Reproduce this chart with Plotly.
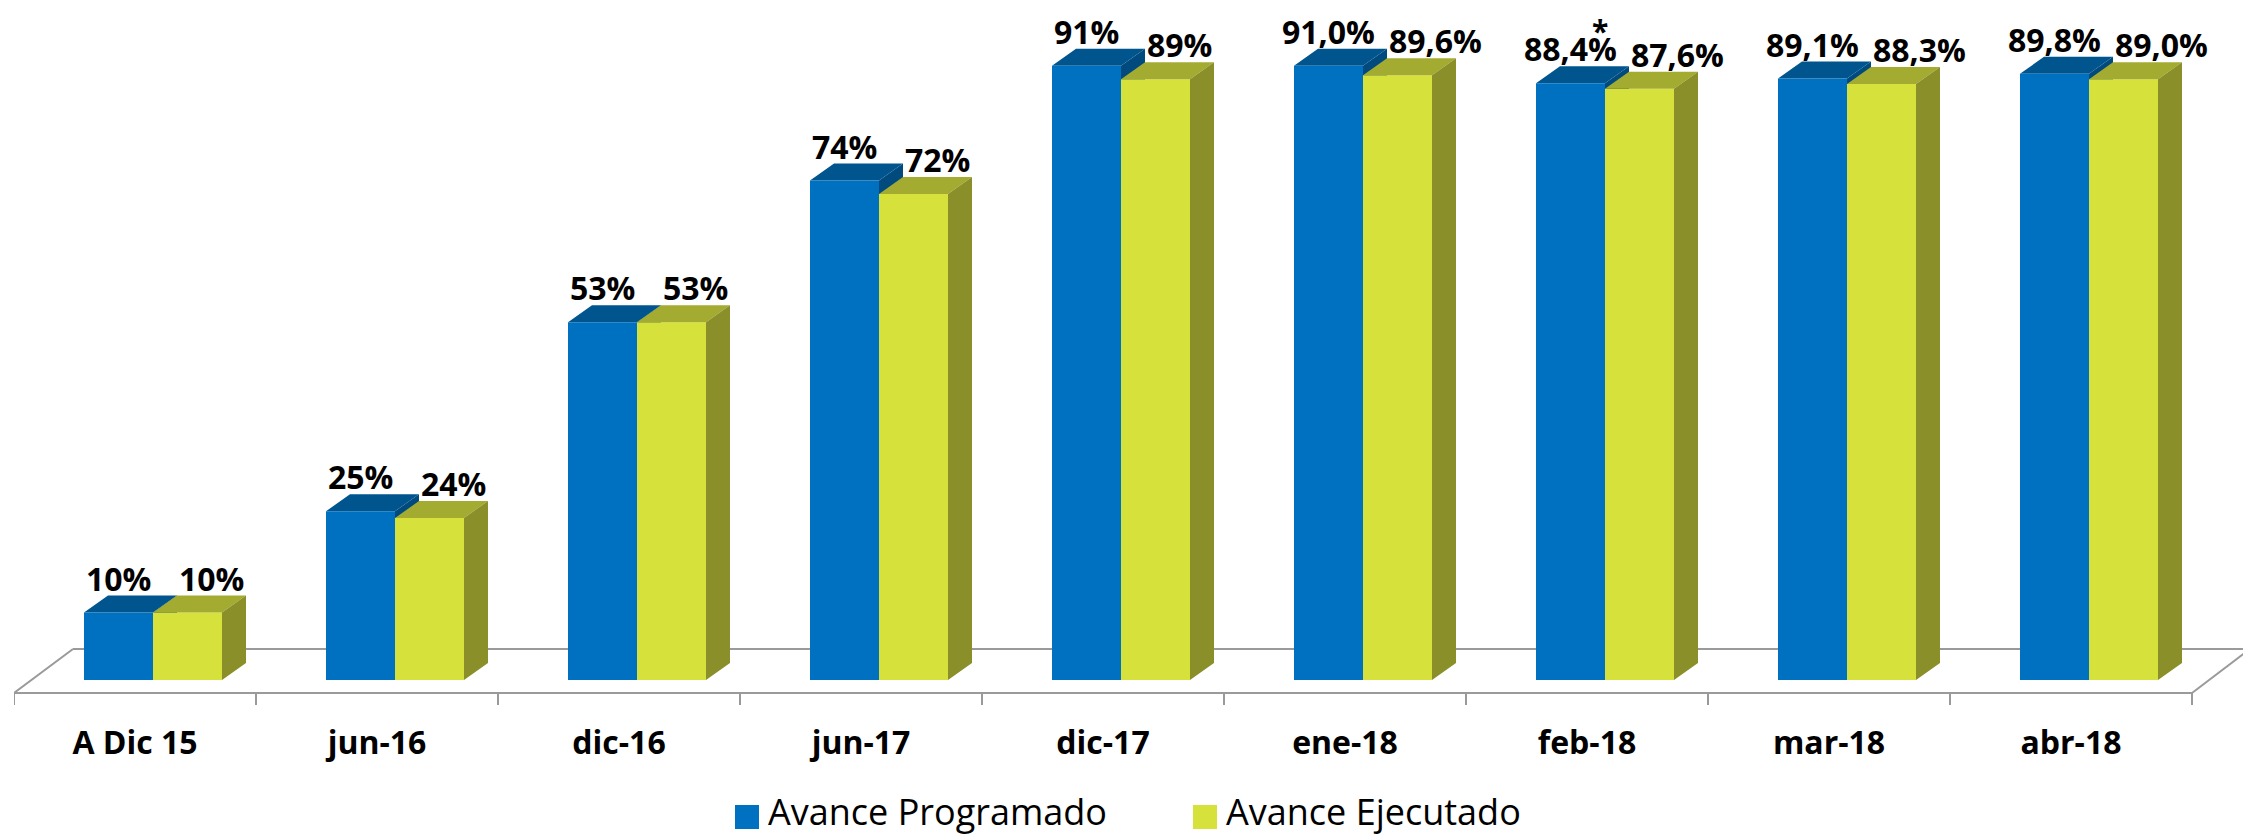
import plotly.graph_objects as go

# ---------------- data ----------------
categories = ["A Dic 15", "jun-16", "dic-16", "jun-17", "dic-17", "ene-18", "feb-18", "mar-18", "abr-18"]
programado = [10, 25, 53, 74, 91, 91.0, 88.4, 89.1, 89.8]
ejecutado = [10, 24, 53, 72, 89, 89.6, 87.6, 88.3, 89.0]
labels_programado = ["10%", "25%", "53%", "74%", "91%", "91,0%", "88,4%", "89,1%", "89,8%"]
labels_ejecutado = ["10%", "24%", "53%", "72%", "89%", "89,6%", "87,6%", "88,3%", "89,0%"]
series_names = ["Avance Programado", "Avance Ejecutado"]
note_category = "feb-18"
note_text = "*"

# ---------------- geometry / style ----------------
PAGE_OFF = 8                        # default body margin of the html page
W_PX, H_PX = 2251 - PAGE_OFF, 838 - PAGE_OFF
CAT_PX = 242.0                      # pixels per category
ML, MT = 14 - PAGE_OFF, 0
PLOT_W = W_PX - ML
Y_PX_PER = 6.75                     # pixels per percent
Y_MIN = -4.0
ZERO_PX = 680 - PAGE_OFF
Y_MAX = ZERO_PX / Y_PX_PER
PLOT_H = (Y_MAX - Y_MIN) * Y_PX_PER
MB = H_PX - PLOT_H

X_MIN = -0.5
X_MAX = X_MIN + PLOT_W / CAT_PX

BAR_W = 69 / CAT_PX
OFF_B = -51 / CAT_PX
OFF_Y = 18 / CAT_PX
DX = 24 / CAT_PX
DY = 17 / Y_PX_PER

FLOOR_FRONT = -13 / Y_PX_PER
FLOOR_BACK = 31 / Y_PX_PER
FLOOR_DX = 59 / CAT_PX
TICK_LEN = 12 / Y_PX_PER

BLUE = "#0070C0"
BLUE_TOP = "#00558F"
BLUE_SIDE = "#004A7E"
YEL = "#D7E13C"
YEL_TOP = "#A4AB31"
YEL_SIDE = "#8A8F29"
GRID = "#9A9A9A"

FONT = "Open Sans"

n = len(categories)
idx = list(range(n))

fig = go.Figure()
fig.add_trace(go.Bar(x=idx, y=programado, offset=OFF_B, width=BAR_W, name=series_names[0],
                     marker=dict(color=BLUE, line=dict(width=0)), showlegend=False,
                     hoverinfo="skip"))
fig.add_trace(go.Bar(x=idx, y=ejecutado, offset=OFF_Y, width=BAR_W, name=series_names[1],
                     marker=dict(color=YEL, line=dict(width=0)), showlegend=False,
                     hoverinfo="skip"))

shapes = []


def poly(pts, color, layer):
    d = "M " + " L ".join(f"{x},{y}" for x, y in pts) + " Z"
    return dict(type="path", path=d, xref="x", yref="y", fillcolor=color,
                line=dict(width=0), layer=layer)


# floor
x_left = X_MIN
x_right = X_MIN + n
floor_lines = [
    ((x_left, FLOOR_FRONT), (x_right, FLOOR_FRONT)),
    ((x_left, FLOOR_FRONT), (x_left + FLOOR_DX, FLOOR_BACK)),
    ((x_left + FLOOR_DX, FLOOR_BACK), (x_right + FLOOR_DX - 0.004, FLOOR_BACK)),
    ((x_right, FLOOR_FRONT), (x_right + FLOOR_DX - 0.004, FLOOR_BACK)),
]
for (a, b) in floor_lines:
    shapes.append(dict(type="line", xref="x", yref="y", x0=a[0], y0=a[1], x1=b[0], y1=b[1],
                       line=dict(color=GRID, width=2), layer="below"))
for i in range(n + 1):
    xb = X_MIN + i
    shapes.append(dict(type="line", xref="x", yref="y", x0=xb, y0=FLOOR_FRONT, x1=xb,
                       y1=FLOOR_FRONT - TICK_LEN, line=dict(color=GRID, width=2), layer="below"))

# 3D faces
for i in idx:
    v = programado[i]
    x0 = i + OFF_B
    x1 = x0 + BAR_W
    shapes.append(poly([(x1, 0), (x1, v), (x1 + DX, v + DY), (x1 + DX, DY)], BLUE_SIDE, "below"))
    shapes.append(poly([(x0, v), (x1, v), (x1 + DX, v + DY), (x0 + DX, v + DY)], BLUE_TOP, "below"))
    v = ejecutado[i]
    x0 = i + OFF_Y
    x1 = x0 + BAR_W
    shapes.append(poly([(x0, v), (x1, v), (x1 + DX, v + DY), (x0 + DX, v + DY)], YEL_TOP, "above"))
    shapes.append(poly([(x1, 0), (x1, v), (x1 + DX, v + DY), (x1 + DX, DY)], YEL_SIDE, "above"))

annotations = []
lab_font = dict(family=FONT, size=32, color="black", weight="bold")
for i in idx:
    annotations.append(dict(x=i + OFF_B + BAR_W / 2, y=programado[i] + DY, xref="x", yref="y",
                            text=labels_programado[i], showarrow=False, xanchor="center",
                            yanchor="bottom", yshift=-6, font=lab_font))
    annotations.append(dict(x=i + OFF_Y + DX, y=ejecutado[i] + DY, xref="x",
                            yref="y", text=labels_ejecutado[i], showarrow=False, xanchor="left",
                            yanchor="bottom", yshift=-6, font=lab_font))
k = categories.index(note_category)
annotations.append(dict(x=k + 13 / CAT_PX, y=1, xref="x", yref="paper",
                        text=note_text, showarrow=False, xanchor="center", yanchor="top",
                        yshift=0, font=dict(family=FONT, size=30, color="black", weight="bold")))


# manual legend (large square markers); coordinates given in page pixels
def px_x(p):
    return (p - PAGE_OFF - ML) / PLOT_W


def px_y(p):
    return (PLOT_H - (p - PAGE_OFF - MT)) / PLOT_H


legend_items = [(735, BLUE, series_names[0]), (1193, YEL, series_names[1])]
for (lx, col, name) in legend_items:
    shapes.append(dict(type="rect", xref="paper", yref="paper", x0=px_x(lx), x1=px_x(lx + 24),
                       y0=px_y(829), y1=px_y(805), fillcolor=col, line=dict(width=0)))
    annotations.append(dict(x=px_x(lx + 31), y=px_y(811), xref="paper", yref="paper", text=name,
                            showarrow=False, xanchor="left", yanchor="middle",
                            font=dict(family=FONT, size=36, color="black")))

fig.update_layout(
    width=W_PX, height=H_PX,
    margin=dict(l=ML, r=0, t=MT, b=MB, pad=0),
    paper_bgcolor="white", plot_bgcolor="white",
    barmode="overlay", showlegend=False,
    shapes=shapes, annotations=annotations,
    xaxis=dict(type="linear", range=[X_MIN, X_MAX], tickmode="array", tickvals=idx,
               ticktext=categories, showgrid=False, zeroline=False, showline=False, ticks="",
               tickfont=dict(family=FONT, size=32, color="black", weight="bold"),
               automargin=False, ticklabelstandoff=14, fixedrange=True),
    yaxis=dict(range=[Y_MIN, Y_MAX], visible=False, showgrid=False, zeroline=False,
               automargin=False, fixedrange=True),
)

fig.write_html("out.html")
